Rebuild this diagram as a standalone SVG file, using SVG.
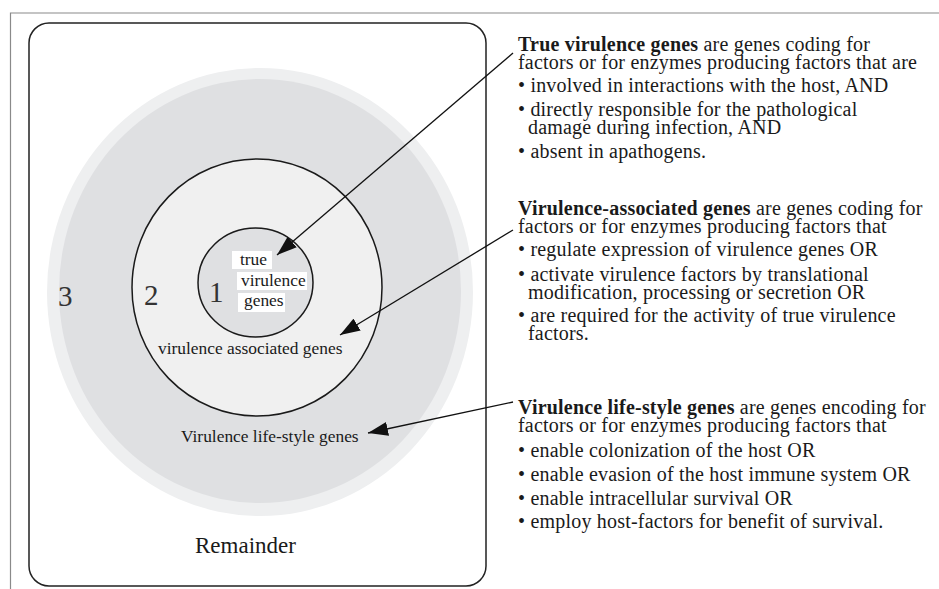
<svg xmlns="http://www.w3.org/2000/svg" width="939" height="589" viewBox="0 0 939 589">
<style>
.t{font-family:"Liberation Serif","Times New Roman",serif;fill:#1a1a1a}
.r{font-size:20px;letter-spacing:0.2px}
.b{font-weight:bold}
.lab{font-size:17.4px}
.num{font-size:29px;fill:#333}
.ring{stroke:#1a1a1a;stroke-width:1.5}
.con{stroke:#111;stroke-width:1.3;fill:none;marker-end:url(#ah)}
.wb{fill:#fff}
</style>
<defs>
<marker id="ah" markerUnits="userSpaceOnUse" markerWidth="22" markerHeight="14" refX="20" refY="7" orient="auto">
<path d="M0,0 L20,7 L0,14 Z" fill="#111"/>
</marker>
</defs>
<rect width="939" height="589" fill="#fff"/>
<path d="M939,13 H10.5 V589" fill="none" stroke="#8a8a8a" stroke-width="1.2"/>
<g id="remainder">
<rect x="29" y="23" width="457" height="563" rx="20" ry="20" fill="#fff" stroke="#222" stroke-width="1.5"/>
<text class="t" x="195" y="553" style="font-size:23px">Remainder</text>
</g>
<g id="ring3">
<ellipse cx="260" cy="292" rx="213" ry="224" fill="#eeeff0"/>
<ellipse cx="260" cy="291" rx="201" ry="212" fill="#dfe0e2"/>
<text class="t num" x="58" y="306">3</text>
<text class="t lab" x="181" y="442">Virulence life-style genes</text>
</g>
<g id="ring2">
<ellipse class="ring" cx="257" cy="287.5" rx="125" ry="128.5" fill="#f0f0f0"/>
<text class="t num" x="144" y="305">2</text>
<text class="t lab" x="158" y="354">virulence associated genes</text>
</g>
<g id="ring1">
<ellipse class="ring" cx="255.5" cy="282.5" rx="57.5" ry="54.5" fill="#dfe0e2"/>
<text class="t num" x="209" y="302">1</text>
<rect class="wb" x="232" y="251" width="40" height="18"/>
<rect class="wb" x="237" y="272" width="70" height="18"/>
<rect class="wb" x="238" y="293" width="47" height="19"/>
<text class="t lab" x="240" y="265">true</text>
<text class="t lab" x="241" y="286">virulence</text>
<text class="t lab" x="244" y="306">genes</text>
</g>
<g id="connectors">
<line class="con" x1="513" y1="53" x2="277" y2="255"/>
<line class="con" x1="513" y1="230" x2="340" y2="335"/>
<line class="con" x1="513" y1="402" x2="368" y2="433"/>
</g>
<g id="desc-true">
<text class="t r" x="518" y="51"><tspan class="b">True virulence genes</tspan> are genes coding for</text>
<text class="t r" x="518" y="69">factors or for enzymes producing factors that are</text>
<text class="t r" x="518" y="92">• involved in interactions with the host, AND</text>
<text class="t r" x="518" y="116">• directly responsible for the pathological</text>
<text class="t r" x="528" y="134">damage during infection, AND</text>
<text class="t r" x="518" y="158">• absent in apathogens.</text>
</g>
<g id="desc-associated">
<text class="t r" x="518" y="215"><tspan class="b">Virulence-associated genes</tspan> are genes coding for</text>
<text class="t r" x="518" y="233">factors or for enzymes producing factors that</text>
<text class="t r" x="518" y="256">• regulate expression of virulence genes OR</text>
<text class="t r" x="518" y="281">• activate virulence factors by translational</text>
<text class="t r" x="528" y="299">modification, processing or secretion OR</text>
<text class="t r" x="518" y="322">• are required for the activity of true virulence</text>
<text class="t r" x="528" y="340">factors.</text>
</g>
<g id="desc-lifestyle">
<text class="t r" x="518" y="414"><tspan class="b">Virulence life-style genes</tspan> are genes encoding for</text>
<text class="t r" x="518" y="432">factors or for enzymes producing factors that</text>
<text class="t r" x="518" y="457">• enable colonization of the host OR</text>
<text class="t r" x="518" y="481">• enable evasion of the host immune system OR</text>
<text class="t r" x="518" y="505">• enable intracellular survival OR</text>
<text class="t r" x="518" y="528">• employ host-factors for benefit of survival.</text>
</g>
</svg>
